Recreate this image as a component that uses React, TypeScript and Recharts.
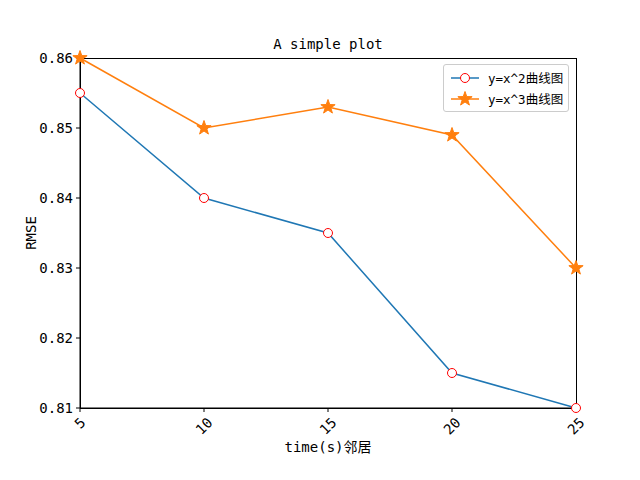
import { LineChart, Line, XAxis, YAxis, Legend, ReferenceArea } from "recharts";

const FONT = '"DejaVu Sans Mono", "Noto Sans CJK SC", monospace';
const BLUE = "#1f77b4";
const ORANGE = "#ff7f0e";

const timeSteps = [5, 10, 15, 20, 25];
const squareSeries = [0.855, 0.84, 0.835, 0.815, 0.81];
const cubeSeries = [0.86, 0.85, 0.853, 0.849, 0.83];
const xTicks = [5, 10, 15, 20, 25];
const yTicks = [0.81, 0.82, 0.83, 0.84, 0.85, 0.86];
const seriesNames = ["y=x^2曲线图", "y=x^3曲线图"];

const data = timeSteps.map((t, i) => ({ t, sq: squareSeries[i], cube: cubeSeries[i] }));

function starPath(cx: number, cy: number, R: number, r: number) {
  const pts: string[] = [];
  for (let k = 0; k < 10; k++) {
    const rad = k % 2 === 0 ? R : r;
    const a = -Math.PI / 2 + (k * Math.PI) / 5;
    pts.push(`${(cx + rad * Math.cos(a)).toFixed(2)},${(cy + rad * Math.sin(a)).toFixed(2)}`);
  }
  return `M${pts.join("L")}Z`;
}

const CircleDot = (p: any) => (
  <circle key={p.index} cx={p.cx} cy={p.cy} r={4.5} fill="#fff" stroke="#ff0000" strokeWidth={1} />
);

const StarDot = (p: any) => (
  <path key={p.index} d={starPath(p.cx, p.cy, 7.5, 3)} fill={ORANGE} stroke={ORANGE} strokeWidth={1} />
);

const XTick = (p: any) => {
  const label = String(p.payload.value);
  const h = (label.length * 8.4 + 14) / Math.SQRT2;
  const cy = 415 + h / 2;
  return (
    <text
      x={p.x}
      y={cy}
      textAnchor="middle"
      dominantBaseline="central"
      transform={`rotate(-45, ${p.x}, ${cy})`}
      fontFamily={FONT}
      fontSize={14}
      fill="#000"
    >
      {label}
    </text>
  );
};

const LegendBox = () => (
  <div
    style={{
      width: 126,
      height: 48,
      border: "1px solid #cccccc",
      borderRadius: 3,
      background: "rgba(255,255,255,0.8)",
      boxSizing: "border-box",
      position: "relative",
    }}
  >
    <svg width={126} height={48} style={{ position: "absolute", left: -1, top: -1 }}>
      <line x1={8} x2={36} y1={14} y2={14} stroke={BLUE} strokeWidth={1.5} />
      <circle cx={22} cy={14} r={4.5} fill="#fff" stroke="#ff0000" />
      <line x1={8} x2={36} y1={35} y2={35} stroke={ORANGE} strokeWidth={1.5} />
      <path d={starPath(22, 35, 7.5, 3)} fill={ORANGE} stroke={ORANGE} />
      <text x={45} y={14} dominantBaseline="central" fontFamily={FONT} fontSize={12.5}>
        {seriesNames[0]}
      </text>
      <text x={45} y={35} dominantBaseline="central" fontFamily={FONT} fontSize={12.5}>
        {seriesNames[1]}
      </text>
    </svg>
  </div>
);

export default function App() {
  return (
    <div style={{ position: "absolute", left: 0, top: 0, width: 640, height: 480, background: "#fff" }}>
      <LineChart
        width={640}
        height={480}
        data={data}
        margin={{ top: 58, right: 64, bottom: 32, left: 30 }}
      >
        <text x={328} y={44} textAnchor="middle" dominantBaseline="central" fontFamily={FONT} fontSize={14}>
          A simple plot
        </text>
        <text
          x={31}
          y={233}
          textAnchor="middle"
          dominantBaseline="central"
          transform="rotate(-90, 31, 233)"
          fontFamily={FONT}
          fontSize={14}
        >
          RMSE
        </text>
        <text x={328} y={447} textAnchor="middle" dominantBaseline="central" fontFamily={FONT} fontSize={14}>
          time(s)邻居
        </text>
        <XAxis
          dataKey="t"
          type="number"
          domain={[5, 25]}
          ticks={xTicks}
          height={40}
          axisLine={{ stroke: "#000" }}
          tickLine={{ stroke: "#000" }}
          tickSize={4}
          tick={<XTick />}
          interval={0}
        />
        <YAxis
          type="number"
          domain={[0.81, 0.86]}
          ticks={yTicks}
          width={50}
          axisLine={{ stroke: "#000" }}
          tickLine={{ stroke: "#000" }}
          tickSize={4}
          tickMargin={3}
          interval={0}
          tickFormatter={(v: number) => v.toFixed(2)}
          tick={{ fill: "#000", fontFamily: FONT, fontSize: 14 }}
        />
        <ReferenceArea
          x1={5}
          x2={25}
          y1={0.81}
          y2={0.86}
          fill="none"
          stroke="#000"
          strokeOpacity={1}
          strokeWidth={1}
          shapeRendering="crispEdges"
        />
        <Line
          dataKey="sq"
          stroke={BLUE}
          strokeWidth={1.5}
          dot={CircleDot}
          activeDot={false}
          isAnimationActive={false}
        />
        <Line
          dataKey="cube"
          stroke={ORANGE}
          strokeWidth={1.5}
          dot={StarDot}
          activeDot={false}
          isAnimationActive={false}
        />
        <Legend
          layout="vertical"
          align="center"
          verticalAlign="middle"
          content={<LegendBox />}
          wrapperStyle={{ position: "absolute", left: 443, top: 64, width: 126, height: 48 }}
        />
      </LineChart>
    </div>
  );
}
